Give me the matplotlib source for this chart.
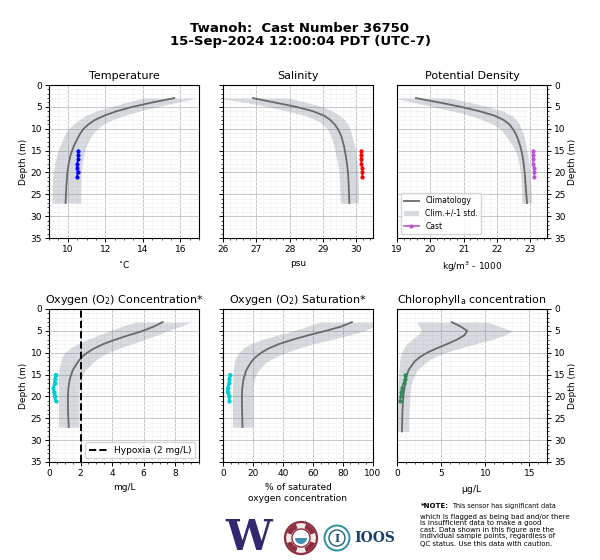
#!/usr/bin/env python3
import numpy as np
import matplotlib
matplotlib.use('Agg')
import matplotlib.pyplot as plt
from matplotlib.patches import Circle, Wedge
from matplotlib.ticker import AutoMinorLocator, MultipleLocator

# depths for climatology
clim_z = [3, 4, 5, 6, 7, 8, 9, 10, 11, 12, 14, 16, 18, 20, 23, 27]
chl_z = [3, 4, 5, 6, 7, 8, 9, 10, 11, 12, 14, 16, 18, 20, 23, 28]
cast_z = [15, 16, 17, 18, 19, 20, 21]

temp_mean = [15.68, 14.5, 13.45, 12.6, 11.95, 11.45, 11.1, 10.85, 10.68, 10.55, 10.32, 10.15, 10.05, 9.98, 9.93, 9.88]
temp_low = [14.0, 13.1, 12.25, 11.5, 10.95, 10.6, 10.3, 10.05, 9.88, 9.77, 9.57, 9.42, 9.3, 9.22, 9.17, 9.15]
temp_high = [16.9, 15.8, 14.75, 13.8, 13.0, 12.35, 11.9, 11.6, 11.38, 11.2, 10.98, 10.85, 10.77, 10.72, 10.7, 10.7]
temp_cast = [10.55, 10.55, 10.55, 10.5, 10.5, 10.52, 10.5]

sal_mean = [26.9, 27.55, 28.2, 28.7, 29.03, 29.22, 29.35, 29.44, 29.51, 29.56, 29.63, 29.68, 29.72, 29.75, 29.77, 29.79]
sal_low = [25.8, 26.7, 27.35, 27.95, 28.45, 28.8, 29.0, 29.12, 29.2, 29.25, 29.33, 29.38, 29.44, 29.48, 29.5, 29.52]
sal_high = [28.0, 28.5, 29.0, 29.3, 29.5, 29.65, 29.75, 29.8, 29.85, 29.88, 29.95, 30.0, 30.03, 30.05, 30.06, 30.06]
sal_cast = [30.14, 30.15, 30.15, 30.15, 30.18, 30.18, 30.18]

dens_mean = [19.57, 20.27, 20.92, 21.48, 21.92, 22.2, 22.37, 22.47, 22.55, 22.61, 22.7, 22.76, 22.8, 22.83, 22.86, 22.9]
dens_low = [18.9, 19.5, 20.1, 20.7, 21.2, 21.58, 21.88, 22.08, 22.2, 22.3, 22.48, 22.6, 22.66, 22.7, 22.73, 22.75]
dens_high = [20.6, 21.2, 21.75, 22.2, 22.45, 22.58, 22.67, 22.73, 22.78, 22.82, 22.87, 22.92, 22.96, 22.99, 23.02, 23.03]
dens_cast = [23.08, 23.08, 23.08, 23.08, 23.12, 23.12, 23.12]

oxy_mean = [7.2, 6.65, 5.95, 5.05, 4.2, 3.45, 2.87, 2.42, 2.08, 1.85, 1.5, 1.32, 1.23, 1.2, 1.2, 1.25]
oxy_low = [5.45, 4.6, 3.85, 3.1, 2.42, 1.8, 1.32, 1.0, 0.82, 0.74, 0.62, 0.6, 0.6, 0.6, 0.6, 0.6]
oxy_high = [8.95, 8.3, 7.55, 6.8, 6.05, 5.25, 4.45, 3.75, 3.22, 2.85, 2.3, 2.0, 1.92, 1.9, 1.9, 1.9]
oxy_cast = [0.42, 0.38, 0.35, 0.28, 0.3, 0.35, 0.42]

sat_mean = [86, 79, 68.5, 57, 46.5, 37.5, 30.5, 25.5, 21.8, 19, 15.5, 13.7, 12.9, 12.6, 12.7, 13]
sat_low = [64.5, 56, 47, 36, 26, 18, 13.5, 10.5, 8.7, 7.6, 6.8, 6.5, 6.4, 6.3, 6.3, 6.3]
sat_high = [105, 101, 94, 84, 72, 60, 50, 41.5, 35, 29.5, 23.5, 21, 20, 20, 20, 20]
sat_cast = [4.6, 4.2, 4, 3, 3, 4, 4.2]

chl_mean = [6.2, 7.2, 7.95, 7.65, 6.8, 5.7, 4.5, 3.4, 2.6, 2.0, 1.3, 1.0, 0.85, 0.72, 0.62, 0.56]
chl_low = [2.2, 2.55, 2.75, 2.3, 1.7, 1.1, 0.75, 0.5, 0.38, 0.3, 0.22, 0.17, 0.1, 0.06, 0.05, 0.05]
chl_high = [10.25, 11.6, 13.1, 12.2, 10.7, 8.8, 7.1, 5.4, 4.2, 3.4, 2.3, 1.75, 1.55, 1.45, 1.38, 1.35]
chl_cast = [0.95, 0.9, 0.75, 0.55, 0.5, 0.4, 0.35]

note_lines = ['which is flagged as being bad and/or there',
              'is insufficient data to make a good',
              'cast. Data shown in this figure are the',
              'individual sample points, regardless of',
              'QC status. Use this data with caution.']
note_y = [517, 523, 530, 536, 544]

plt.rcParams['font.size'] = 7
plt.rcParams['mathtext.default'] = 'regular'

fig = plt.figure(figsize=(6, 5.6), dpi=100)


def make_panel(x0, y0, title, xlabel, xlim, xstep, z, mean, low, high, cz, cast, color, right=False, left_label=True):
    # x0,y0 = upper left corner of axes in pixels
    ax = fig.add_axes([x0 / 600, 1 - (y0 + 153) / 560, 150 / 600, 153 / 560])
    ax.fill_betweenx(z, low, high, color='slategray', alpha=0.28, lw=0, label='Clim.+/-1 std.')
    ax.plot(mean, z, color='dimgray', lw=1.3, label='Climatology')
    ax.plot(cast, cz, color=color, lw=2 if color == 'darkturquoise' else 1.2, marker='o', ms=2, label='Cast')
    ax.set_xlim(*xlim)
    ax.set_ylim(35, 0)
    ax.xaxis.set_major_locator(MultipleLocator(xstep))
    ax.yaxis.set_major_locator(MultipleLocator(5))
    ax.xaxis.set_minor_locator(AutoMinorLocator())
    ax.yaxis.set_minor_locator(MultipleLocator(1))
    ax.grid(which='major', color='#c8c8c8', lw=0.7)
    ax.grid(which='minor', color='#f4f4f4', lw=0.7)
    ax.set_axisbelow(True)
    ax.tick_params(labelsize=6.5, length=3, width=0.7, pad=2)
    ax.tick_params(which='minor', length=1.5, width=0.5)
    ax.set_title(title, fontsize=8, pad=4)
    ax.set_xlabel(xlabel, fontsize=6.5, labelpad=4)
    if right:
        ax.yaxis.tick_right()
        ax.yaxis.set_label_position('right')
    if left_label:
        ax.set_ylabel('Depth (m)', fontsize=6.5, labelpad=2)
    else:
        ax.tick_params(axis='y', which='both', labelleft=False)
    return ax


make_panel(49, 85, 'Temperature', '$^{\\circ}$C', (9, 17), 2, clim_z, temp_mean, temp_low, temp_high, cast_z, temp_cast, 'blue')
make_panel(223, 85, 'Salinity', 'psu', (26, 30.5), 1, clim_z, sal_mean, sal_low, sal_high, cast_z, sal_cast, 'red', left_label=False)
ax3 = make_panel(397, 85, 'Potential Density', 'kg/m$^{3}$ - 1000', (19, 23.5), 1, clim_z, dens_mean, dens_low, dens_high, cast_z, dens_cast, 'mediumorchid', right=True)
handles, labels = ax3.get_legend_handles_labels()
ax3.legend([handles[1], handles[0], handles[2]], [labels[1], labels[0], labels[2]], loc='lower left', fontsize=5.5,
           bbox_to_anchor=(0.01, 0.012), borderaxespad=0.3)

ax4 = make_panel(49, 309, 'Oxygen (O$_{2}$) Concentration*', 'mg/L', (0, 9.5), 2, clim_z, oxy_mean, oxy_low, oxy_high, cast_z, oxy_cast, 'darkturquoise')
hyp = ax4.axvline(2, color='k', ls='--', lw=1.4, label='Hypoxia (2 mg/L)')
ax4.legend(handles=[hyp], loc='lower right', fontsize=6.5, borderaxespad=0.4)
make_panel(223, 309, 'Oxygen (O$_{2}$) Saturation*', '% of saturated\noxygen concentration', (0, 100), 20, clim_z, sat_mean, sat_low, sat_high, cast_z, sat_cast, 'darkturquoise', left_label=False)
make_panel(397, 309, 'Chlorophyll$_{a}$ concentration', '$\\mu$g/L', (0, 17), 5, chl_z, chl_mean, chl_low, chl_high, cast_z, chl_cast, 'seagreen', right=True)

fig.text(0.5, 1 - 28 / 560, 'Twanoh:  Cast Number 36750', ha='center', va='center', fontsize=9.5, fontweight='bold')
fig.text(0.5, 1 - 42 / 560, '15-Sep-2024 12:00:04 PDT (UTC-7)', ha='center', va='center', fontsize=9.5, fontweight='bold')

# footer drawn in pixel coords
foot = fig.add_axes([0, 0, 1, 1], facecolor='none')
foot.set_xlim(0, 600)
foot.set_ylim(560, 0)
foot.axis('off')

foot.text(249, 538, 'W', ha='center', va='center', fontsize=30, fontweight='bold', family='DejaVu Serif', color='#33276f')

foot.add_patch(Circle((301, 538), 16, fc='#f4e8e8', ec='#8c2f3f', lw=1.6))
for start in (20, 110, 200, 290):
    foot.add_patch(Wedge((301, 538), 15, start, start + 50, width=5, fc='#8c2f3f', ec='none'))
foot.add_patch(Circle((301, 538), 9, fc='white', ec='#8c2f3f', lw=1.0))
foot.add_patch(Wedge((301, 538), 6, 0, 180, fc='#3f8fb5', ec='none'))

foot.add_patch(Circle((337, 538), 12.5, fc='white', ec='#2f8fa5', lw=1.4))
foot.add_patch(Circle((337, 538), 8, fc='white', ec='#1f5f7f', lw=1.0))
foot.text(337, 538, 'I', ha='center', va='center', fontsize=8, fontweight='bold', family='DejaVu Serif', color='#1f4f77')
foot.text(375, 538, 'IOOS', ha='center', va='center', fontsize=10, fontweight='bold', family='DejaVu Serif', color='#17406d')

foot.text(421, 506, '*NOTE:', ha='left', va='center', fontsize=5, fontweight='bold')
foot.text(452, 506, 'This sensor has significant data', ha='left', va='center', fontsize=4.7)
for line, y in zip(note_lines, note_y):
    foot.text(420, y, line, ha='left', va='center', fontsize=5)

plt.savefig('out.png', dpi=100)
